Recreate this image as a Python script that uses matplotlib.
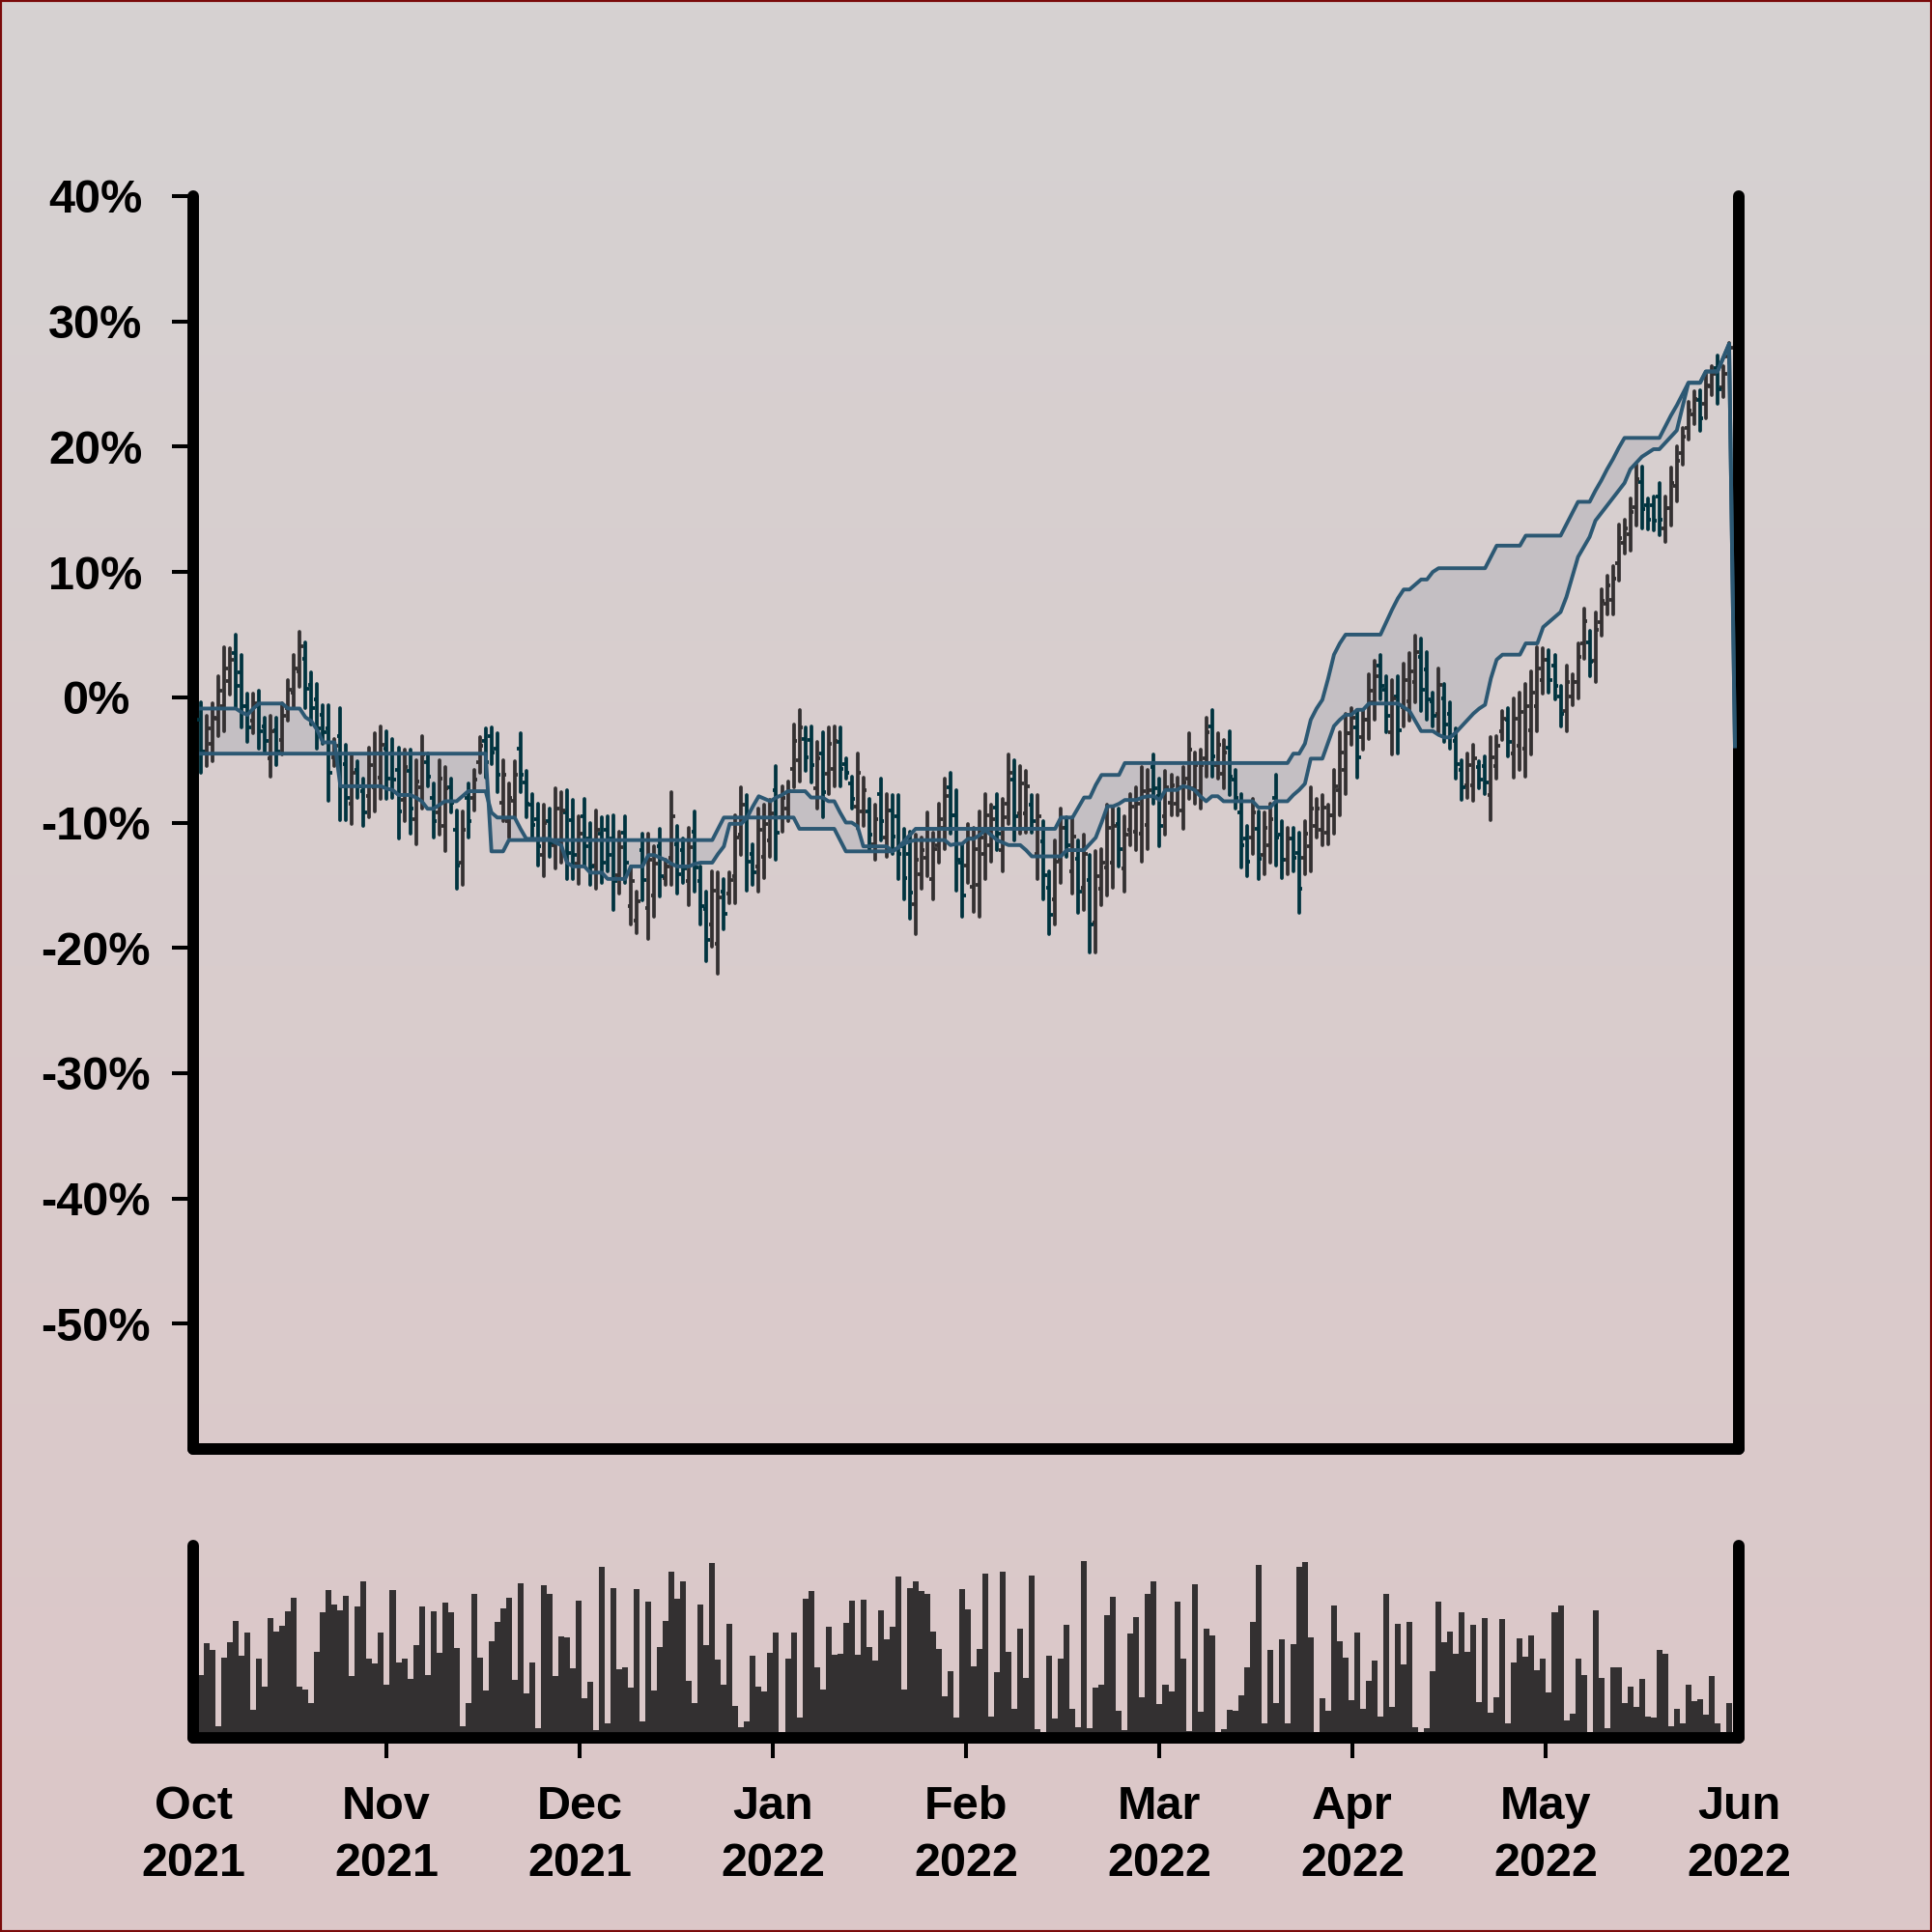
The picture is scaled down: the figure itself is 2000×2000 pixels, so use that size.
import numpy as np
import matplotlib
matplotlib.use("Agg")
import matplotlib.pyplot as plt
from matplotlib.colors import LinearSegmentedColormap
from matplotlib.patches import Rectangle

plt.rcParams["font.family"] = ["Liberation Sans", "DejaVu Sans"]

# ── data (percent change, one bar per session) ───────────────────────────────

highs = [
    -0.4, -1.5, -0.5, 1.7, 4.0, 3.9, 5.0, 3.4, 0.3, 0.3,
    0.5, -1.6, -1.5, -1.6, -0.5, 1.4, 3.4, 5.2, 4.4, 2.0,
    1.1, -0.6, -0.6, -3.3, -0.9, -3.8, -4.6, -5.1, -6.5, -4.0,
    -2.9, -2.3, -2.7, -3.3, -4.0, -4.2, -4.2, -5.0, -3.1, -4.5,
    -6.9, -5.0, -5.6, -6.5, -9.0, -9.1, -6.9, -5.8, -3.2, -2.5,
    -2.4, -2.9, -5.0, -6.9, -5.1, -2.9, -5.9, -7.7, -8.5, -8.6,
    -8.9, -7.3, -7.6, -7.4, -8.2, -9.5, -8.1, -10.0, -9.0, -9.6,
    -9.5, -9.4, -10.7, -9.5, -13.5, -15.5, -10.9, -10.9, -11.9, -10.5,
    -13.0, -7.6, -10.3, -11.3, -10.4, -9.1, -13.5, -15.5, -13.9, -14.0,
    -14.5, -14.0, -9.4, -7.2, -7.8, -11.7, -8.9, -8.6, -8.2, -5.5,
    -7.1, -6.7, -2.2, -1.0, -2.4, -2.3, -3.6, -2.8, -2.4, -2.3,
    -2.4, -4.9, -6.3, -4.5, -6.4, -8.1, -8.6, -6.5, -7.7, -7.8,
    -7.8, -10.5, -10.7, -11.0, -11.2, -9.2, -10.8, -8.5, -6.5, -6.0,
    -7.4, -11.7, -10.1, -10.4, -9.1, -7.7, -8.6, -7.7, -8.1, -4.6,
    -5.0, -5.5, -5.9, -7.8, -7.8, -9.9, -13.9, -11.4, -8.9, -9.6,
    -9.6, -11.4, -11.0, -12.6, -12.3, -12.1, -8.6, -8.7, -8.9, -9.5,
    -7.7, -7.2, -5.6, -5.8, -4.6, -6.5, -5.9, -6.2, -6.4, -5.6,
    -2.9, -4.4, -4.2, -1.6, -1.0, -2.9, -3.4, -2.7, -5.8, -7.7,
    -10.3, -8.1, -9.1, -9.2, -8.5, -6.2, -9.9, -10.4, -10.4, -10.8,
    -9.9, -7.2, -8.1, -7.8, -8.6, -5.8, -2.8, -1.3, -0.9, -1.0,
    -1.0, 1.8, 2.9, 3.4, 1.7, 1.4, 1.7, 2.7, 3.5, 4.9,
    4.7, 3.6, 0.4, 2.3, 1.1, -0.4, -2.5, -5.0, -4.5, -3.8,
    -5.1, -4.7, -3.2, -3.1, -1.1, -0.9, -0.1, 0.4, 1.1, 2.1,
    4.0, 3.9, 3.8, 3.4, 0.9, 2.5, 1.8, 4.3, 7.1, 5.3,
    6.8, 8.6, 9.7, 10.5, 13.8, 14.2, 15.9, 18.6, 18.4, 15.9,
    16.0, 17.1, 16.0, 18.3, 20.0, 21.5, 23.6, 24.4, 24.5, 25.8,
    26.4, 27.3, 26.4, 28.3,
]

lows = [
    -6.0, -5.5, -5.1, -3.1, -2.7, 0.2, -0.9, -2.4, -3.6, -2.9,
    -4.1, -4.3, -6.3, -5.4, -4.6, -1.9, -0.9, 0.8, -0.9, -2.2,
    -4.1, -3.7, -8.3, -5.5, -9.8, -9.8, -10.1, -8.0, -10.3, -9.6,
    -9.1, -8.1, -8.1, -8.0, -11.3, -9.9, -10.9, -11.7, -8.9, -7.1,
    -11.2, -11.0, -12.3, -9.2, -15.3, -15.0, -11.2, -9.0, -6.0, -6.4,
    -5.3, -7.6, -9.9, -11.2, -9.6, -7.6, -9.6, -11.3, -13.4, -14.3,
    -12.7, -13.7, -13.2, -14.5, -14.5, -14.9, -13.5, -15.0, -15.3, -14.8,
    -13.9, -17.0, -15.7, -14.8, -18.1, -18.8, -16.2, -19.3, -17.5, -15.9,
    -15.0, -15.0, -15.7, -14.8, -16.6, -15.5, -18.1, -21.1, -19.9, -22.1,
    -18.5, -16.4, -16.4, -12.6, -15.4, -15.0, -15.5, -14.4, -12.7, -13.0,
    -10.7, -9.9, -7.2, -6.7, -5.9, -6.8, -8.9, -9.6, -7.7, -7.1,
    -7.1, -6.5, -8.9, -10.5, -10.3, -12.2, -13.0, -11.4, -12.7, -12.5,
    -14.5, -16.1, -17.7, -18.9, -15.3, -14.3, -16.1, -13.2, -12.1, -10.9,
    -15.4, -17.5, -14.8, -17.1, -17.5, -14.5, -13.1, -12.2, -13.9, -10.1,
    -11.4, -10.9, -10.8, -10.8, -14.5, -16.1, -18.9, -18.1, -14.8, -12.7,
    -15.7, -17.2, -17.0, -20.4, -20.4, -16.6, -15.8, -15.2, -13.5, -15.5,
    -11.8, -12.2, -13.1, -12.1, -8.5, -11.9, -11.0, -9.4, -9.4, -10.5,
    -8.1, -8.5, -8.9, -6.3, -6.3, -6.5, -7.3, -7.8, -8.9, -13.6,
    -14.3, -12.5, -14.5, -14.1, -13.2, -13.4, -14.4, -14.1, -13.9, -17.2,
    -14.1, -13.9, -11.2, -11.8, -11.7, -10.9, -9.4, -7.7, -3.8, -6.4,
    -4.2, -3.3, -1.8, -0.2, -2.8, -4.6, -4.5, -2.3, -1.9, -0.4,
    -1.1, -1.8, -2.3, -2.8, -3.6, -4.1, -6.5, -8.2, -8.0, -8.3,
    -7.3, -7.7, -9.8, -6.5, -3.4, -4.7, -6.4, -5.8, -6.3, -4.6,
    -2.7, 0.3, 0.4, -0.2, -2.3, -2.7, -0.6, -0.1, 3.1, 1.7,
    1.2, 4.9, 6.6, 6.6, 9.3, 11.5, 11.7, 13.7, 13.5, 13.4,
    13.3, 12.9, 12.4, 13.7, 15.6, 18.6, 20.6, 21.8, 21.3, 22.3,
    24.1, 23.4, 24.0, 26.7,
]

opens = [
    -1.8, -4.3, -3.7, -1.7, -0.7, 1.3, 3.5, 2.0, -0.7, -1.9,
    -0.7, -2.3, -4.9, -2.6, -3.4, -0.9, 0.4, 2.1, 3.1, 1.0,
    -0.2, -1.4, -2.5, -4.8, -3.1, -5.3, -8.5, -5.8, -7.5, -7.9,
    -7.2, -6.4, -4.1, -4.5, -5.8, -8.2, -5.9, -9.7, -7.2, -5.2,
    -8.0, -9.2, -10.3, -7.2, -10.6, -13.2, -8.0, -8.0, -5.2, -3.5,
    -3.1, -4.1, -8.4, -9.9, -8.3, -4.1, -6.8, -8.6, -9.7, -12.6,
    -9.9, -11.8, -11.5, -9.2, -9.8, -13.3, -9.5, -11.3, -13.4, -10.9,
    -10.6, -11.3, -14.2, -10.8, -16.7, -17.8, -12.2, -16.8, -15.8, -11.9,
    -14.4, -12.8, -11.7, -12.2, -14.7, -10.7, -14.7, -16.9, -18.1, -19.7,
    -15.5, -15.7, -14.3, -11.0, -9.7, -12.5, -13.5, -12.7, -11.4, -7.4,
    -9.6, -8.9, -5.7, -5.0, -3.3, -3.4, -7.3, -4.5, -6.1, -5.7,
    -3.6, -5.3, -6.9, -8.7, -9.1, -9.1, -11.7, -7.7, -11.2, -9.0,
    -9.5, -11.9, -12.5, -16.5, -14.1, -12.8, -14.5, -11.8, -10.4, -7.2,
    -9.4, -13.2, -13.4, -15.1, -15.0, -12.5, -11.8, -8.8, -12.2, -8.5,
    -6.6, -9.3, -9.3, -8.6, -12.5, -11.5, -15.2, -16.1, -13.0, -10.4,
    -13.9, -12.9, -15.2, -14.6, -18.0, -15.3, -13.6, -13.2, -10.1, -13.7,
    -10.6, -10.7, -10.9, -10.2, -5.6, -7.9, -9.5, -8.4, -8.5, -9.0,
    -6.5, -7.3, -7.5, -4.9, -2.3, -5.4, -6.1, -4.0, -6.6, -9.2,
    -11.3, -11.2, -10.5, -12.6, -11.8, -8.0, -11.0, -13.0, -11.3, -12.4,
    -12.8, -11.9, -10.3, -10.6, -10.8, -9.4, -7.4, -5.8, -2.9, -2.4,
    -3.2, -1.8, -0.4, 2.5, 0.6, -2.8, 0.1, -0.8, -0.3, 1.2,
    3.2, 2.2, -0.3, -1.3, -0.1, -1.3, -3.5, -5.8, -7.0, -7.0,
    -5.6, -5.5, -7.8, -5.5, -2.7, -1.8, -4.5, -3.9, -4.1, -2.6,
    -0.7, 1.4, 3.0, 2.5, 0.1, -1.1, 0.1, 1.2, 4.3, 4.4,
    2.9, 6.0, 7.5, 7.8, 10.7, 12.3, 13.0, 15.2, 17.2, 15.3,
    15.3, 16.0, 13.5, 15.1, 16.9, 19.5, 21.5, 22.6, 23.7, 23.4,
    24.8, 26.3, 24.7, 27.2,
]

closes = [
    -4.3, -2.5, -1.6, 0.5, 2.3, 3.0, 0.9, -0.7, -2.4, -0.5,
    -2.7, -3.5, -2.7, -4.3, -1.5, 0.6, 2.3, 4.1, 0.7, -0.9,
    -2.5, -2.8, -6.0, -3.9, -7.1, -8.0, -6.0, -7.1, -9.2, -5.4,
    -4.5, -3.8, -6.5, -6.6, -9.1, -5.6, -8.9, -6.7, -4.6, -6.3,
    -9.9, -6.5, -7.3, -8.4, -13.4, -10.6, -9.9, -6.6, -3.9, -5.2,
    -4.4, -6.2, -6.2, -8.0, -6.2, -6.2, -8.5, -10.2, -11.9, -10.0,
    -11.6, -8.9, -9.0, -12.4, -12.6, -10.9, -11.9, -13.5, -10.6, -13.2,
    -12.6, -14.7, -12.0, -13.2, -14.7, -16.3, -14.6, -13.0, -13.3, -14.3,
    -13.5, -9.5, -14.1, -13.7, -12.0, -13.6, -16.7, -19.4, -15.4, -16.0,
    -17.3, -14.6, -11.2, -8.6, -13.1, -14.0, -10.6, -10.1, -9.3, -10.8,
    -8.0, -7.5, -3.5, -2.4, -4.8, -5.4, -4.9, -7.6, -3.7, -3.5,
    -5.7, -6.0, -8.1, -6.0, -7.4, -11.0, -9.7, -9.9, -9.0, -11.1,
    -12.5, -14.4, -15.6, -13.0, -12.2, -10.5, -12.1, -9.7, -7.9, -9.4,
    -13.0, -15.8, -11.3, -12.1, -11.2, -9.4, -9.7, -10.9, -9.6, -6.0,
    -9.5, -6.9, -7.1, -9.9, -9.5, -14.2, -17.4, -13.1, -10.4, -11.8,
    -11.1, -15.5, -12.5, -18.1, -14.3, -13.2, -10.4, -10.3, -12.1, -11.0,
    -8.7, -8.5, -7.5, -7.4, -7.3, -10.3, -7.2, -7.0, -7.2, -6.8,
    -4.2, -5.4, -5.4, -2.8, -4.7, -3.8, -4.4, -6.3, -8.0, -11.8,
    -13.1, -9.2, -12.9, -10.4, -9.7, -11.2, -13.0, -11.3, -12.8, -15.3,
    -10.9, -8.9, -8.9, -8.8, -9.4, -7.1, -4.4, -2.9, -1.6, -4.8,
    -1.8, 0.5, 1.7, 0.9, -1.5, -0.1, -2.6, 1.4, 2.1, 3.6,
    0.6, -0.2, -1.5, 1.0, -2.2, -3.0, -5.3, -7.2, -5.4, -4.9,
    -6.6, -6.8, -4.8, -3.9, -1.7, -3.6, -1.7, -1.2, -0.7, 0.4,
    2.3, 3.0, 1.4, 0.9, -1.3, 1.2, 1.2, 3.2, 6.1, 2.8,
    5.4, 7.7, 8.9, 9.5, 12.7, 13.5, 14.8, 17.4, 15.0, 14.2,
    14.1, 14.2, 15.1, 17.1, 18.9, 20.8, 22.9, 23.8, 22.3, 24.9,
    25.8, 24.6, 25.8, 27.9,
]

volume = [
    59, 92, 85, 6, 77, 93, 115, 79, 103, 23,
    76, 47, 118, 104, 110, 125, 139, 47, 44, 30,
    83, 124, 147, 132, 126, 141, 58, 130, 156, 76,
    71, 103, 49, 147, 72, 76, 55, 90, 130, 59,
    125, 82, 134, 124, 87, 6, 30, 143, 77, 43,
    94, 114, 128, 139, 54, 154, 40, 72, 4, 152,
    143, 58, 99, 98, 66, 136, 35, 52, 2, 171,
    9, 149, 65, 67, 46, 148, 11, 135, 43, 88,
    115, 166, 138, 156, 53, 30, 132, 90, 175, 75,
    49, 112, 27, 5, 11, 79, 47, 42, 82, 103,
    0, 76, 103, 15, 138, 146, 67, 44, 109, 80,
    81, 113, 136, 80, 137, 88, 74, 126, 96, 109,
    161, 44, 149, 156, 146, 143, 104, 86, 37, 63,
    15, 148, 127, 68, 86, 164, 16, 62, 166, 83,
    24, 107, 56, 162, 3, 0, 79, 14, 76, 111,
    24, 5, 177, 4, 46, 49, 121, 140, 22, 2,
    102, 119, 36, 143, 156, 29, 49, 42, 135, 76,
    1, 153, 21, 107, 100, 0, 3, 23, 22, 38,
    67, 114, 173, 9, 85, 30, 96, 9, 91, 171,
    176, 98, 0, 35, 22, 131, 94, 77, 33, 103,
    24, 53, 74, 16, 143, 26, 112, 70, 114, 5,
    0, 4, 63, 135, 93, 104, 81, 124, 83, 111,
    31, 118, 20, 36, 117, 9, 72, 97, 78, 100,
    64, 76, 41, 124, 131, 12, 19, 76, 59, 0,
    126, 56, 4, 67, 67, 30, 47, 26, 55, 16,
    15, 85, 81, 6, 24, 9, 49, 32, 34, 18,
    58, 9, 0, 30,
]

# cloud lines: one value per session plus a trailing point
span_a = [
    -0.9, -0.9, -0.9, -0.9, -0.9, -0.9, -0.9, -1.2, -1.4, -0.9,
    -0.5, -0.5, -0.5, -0.5, -0.5, -0.9, -0.9, -0.9, -1.6, -1.9,
    -2.6, -3.6, -3.6, -3.6, -7.1, -7.1, -7.1, -7.1, -7.1, -7.1,
    -7.1, -7.1, -7.3, -7.4, -7.8, -7.8, -7.8, -8.0, -8.3, -8.9,
    -8.9, -8.6, -8.3, -8.3, -8.3, -7.9, -7.5, -7.5, -7.5, -7.5,
    -9.2, -9.6, -9.6, -9.6, -9.6, -10.5, -11.3, -11.3, -11.3, -11.3,
    -11.3, -11.6, -11.8, -13.2, -13.5, -13.5, -13.5, -14.0, -14.0, -14.0,
    -14.5, -14.5, -14.5, -14.5, -13.5, -13.5, -13.5, -12.6, -12.6, -12.8,
    -13.0, -13.3, -13.5, -13.5, -13.5, -13.3, -13.2, -13.2, -13.2, -12.5,
    -11.9, -10.1, -10.1, -10.1, -9.6, -8.7, -7.9, -8.1, -8.3, -8.0,
    -7.8, -7.5, -7.5, -7.5, -7.5, -8.0, -8.0, -8.0, -8.3, -8.3,
    -9.2, -10.0, -10.0, -10.3, -11.9, -11.9, -11.9, -11.9, -11.9, -12.3,
    -12.0, -11.7, -11.5, -11.4, -11.4, -11.4, -11.4, -11.4, -11.4, -11.8,
    -11.7, -11.7, -11.3, -11.3, -11.0, -10.6, -11.0, -11.4, -11.6, -11.8,
    -11.8, -11.8, -12.2, -12.7, -12.7, -12.7, -12.7, -12.7, -12.7, -12.2,
    -12.2, -12.2, -12.2, -11.7, -11.2, -10.0, -8.7, -8.7, -8.5, -8.2,
    -8.2, -8.2, -8.0, -7.9, -7.9, -8.2, -7.4, -7.4, -7.4, -7.1,
    -7.2, -7.4, -7.9, -8.3, -7.9, -7.9, -8.3, -8.3, -8.3, -8.3,
    -8.3, -8.3, -8.8, -8.8, -8.8, -8.3, -8.3, -8.3, -7.8, -7.4,
    -6.9, -4.9, -4.9, -4.9, -3.6, -2.3, -1.8, -1.4, -1.4, -1.0,
    -1.0, -0.5, -0.5, -0.5, -0.5, -0.5, -0.5, -0.8, -1.1, -1.9,
    -2.7, -2.7, -2.7, -3.0, -3.2, -3.2, -2.8, -2.3, -1.8, -1.3,
    -0.9, -0.6, 1.5, 3.0, 3.4, 3.4, 3.4, 3.4, 4.3, 4.3,
    4.3, 5.6, 6.0, 6.4, 6.8, 8.0, 9.6, 11.2, 12.0, 12.8,
    14.1, 14.7, 15.3, 15.9, 16.5, 17.1, 18.2, 18.7, 19.2, 19.5,
    19.8, 19.8, 20.3, 20.8, 21.3, 23.2, 25.1, 25.1, 25.1, 26.0,
    26.0, 26.0, 27.1, 28.2, -3.9,
]

span_b = [
    -4.5, -4.5, -4.5, -4.5, -4.5, -4.5, -4.5, -4.5, -4.5, -4.5,
    -4.5, -4.5, -4.5, -4.5, -4.5, -4.5, -4.5, -4.5, -4.5, -4.5,
    -4.5, -4.5, -4.5, -4.5, -4.5, -4.5, -4.5, -4.5, -4.5, -4.5,
    -4.5, -4.5, -4.5, -4.5, -4.5, -4.5, -4.5, -4.5, -4.5, -4.5,
    -4.5, -4.5, -4.5, -4.5, -4.5, -4.5, -4.5, -4.5, -4.5, -4.5,
    -12.3, -12.3, -12.3, -11.4, -11.4, -11.4, -11.4, -11.4, -11.4, -11.4,
    -11.4, -11.4, -11.4, -11.4, -11.4, -11.4, -11.4, -11.4, -11.4, -11.4,
    -11.4, -11.4, -11.4, -11.4, -11.4, -11.4, -11.4, -11.4, -11.4, -11.4,
    -11.4, -11.4, -11.4, -11.4, -11.4, -11.4, -11.4, -11.4, -11.4, -10.5,
    -9.6, -9.6, -9.6, -9.6, -9.6, -9.6, -9.6, -9.6, -9.6, -9.6,
    -9.6, -9.6, -9.6, -10.5, -10.5, -10.5, -10.5, -10.5, -10.5, -10.5,
    -11.4, -12.3, -12.3, -12.3, -12.3, -12.3, -12.3, -12.3, -12.3, -12.3,
    -12.0, -11.5, -11.0, -10.5, -10.5, -10.5, -10.5, -10.5, -10.5, -10.5,
    -10.5, -10.5, -10.5, -10.5, -10.5, -10.5, -10.5, -10.5, -10.5, -10.5,
    -10.5, -10.5, -10.5, -10.5, -10.5, -10.5, -10.5, -10.5, -9.6, -9.6,
    -9.6, -8.8, -8.0, -8.0, -7.0, -6.2, -6.2, -6.2, -6.2, -5.25,
    -5.25, -5.25, -5.25, -5.25, -5.25, -5.25, -5.25, -5.25, -5.25, -5.25,
    -5.25, -5.25, -5.25, -5.25, -5.25, -5.25, -5.25, -5.25, -5.25, -5.25,
    -5.25, -5.25, -5.25, -5.25, -5.25, -5.25, -5.25, -5.25, -4.5, -4.5,
    -3.7, -1.8, -0.9, -0.2, 1.5, 3.4, 4.3, 5.0, 5.0, 5.0,
    5.0, 5.0, 5.0, 5.0, 6.0, 7.0, 7.9, 8.6, 8.6, 9.0,
    9.4, 9.4, 10.0, 10.3, 10.3, 10.3, 10.3, 10.3, 10.3, 10.3,
    10.3, 10.3, 11.2, 12.1, 12.1, 12.1, 12.1, 12.1, 12.9, 12.9,
    12.9, 12.9, 12.9, 12.9, 12.9, 13.8, 14.7, 15.6, 15.6, 15.6,
    16.5, 17.3, 18.2, 19.0, 19.9, 20.7, 20.7, 20.7, 20.7, 20.7,
    20.7, 20.7, 21.6, 22.5, 23.3, 24.2, 25.1, 25.1, 25.1, 26.0,
    26.0, 26.0, 27.1, 28.2, -3.9,
]

month_labels = ["Oct\n2021", "Nov\n2021", "Dec\n2021", "Jan\n2022", "Feb\n2022",
                "Mar\n2022", "Apr\n2022", "May\n2022", "Jun\n2022"]
pct_ticks = [40, 30, 20, 10, 0, -10, -20, -30, -40, -50]
pct_labels = ["40%", "30%", "20%", "10%", "0%", "-10%", "-20%", "-30%", "-40%", "-50%"]

# ── styling ──────────────────────────────────────────────────────────────────

UP_COL = "#333031"
DOWN_COL = "#00333f"
LINE_COL = "#2c5873"
FILL_COL = "#c4bfc3"
SPINE_W = 8.6
BAR_W = 2.7
FONT = dict(fontsize=35, fontweight="bold")

x = np.arange(len(highs))
x_line = np.arange(len(span_a))
up = np.array(closes) >= np.array(opens)
bar_cols = np.where(up, UP_COL, DOWN_COL)
XLIM = (-1.33, 264.67)

fig = plt.figure(figsize=(20, 20), dpi=100)

# background gradient + thin frame
bg = fig.add_axes([0, 0, 1, 1], zorder=-10)
cmap = LinearSegmentedColormap.from_list("bg", ["#d6d2d2", "#dcc7c8"])
bg.imshow(np.linspace(0, 1, 256)[:, None], aspect="auto", cmap=cmap,
          extent=[0, 1, 0, 1], origin="upper")
bg.set_axis_off()
fig.add_artist(Rectangle((0, 0), 1, 1, transform=fig.transFigure, fill=False,
                         edgecolor="#7a0a0a", linewidth=3))


def style_spines(a):
    a.set_facecolor("none")
    a.spines["top"].set_visible(False)
    for s in ("left", "right", "bottom"):
        a.spines[s].set_linewidth(SPINE_W)
        a.spines[s].set_capstyle("round")
        a.spines[s].set_color("black")


# ── price panel ──────────────────────────────────────────────────────────────

ax = fig.add_axes([0.1, 0.25, 0.8, 0.6485])
style_spines(ax)
ax.fill_between(x_line, span_a, span_b, color=FILL_COL, linewidth=0, zorder=1)
ax.vlines(x, lows, highs, colors=bar_cols, linewidth=BAR_W, zorder=3, capstyle="round")
ax.hlines(opens, x - 0.6, x, colors=bar_cols, linewidth=BAR_W, zorder=3)
ax.hlines(closes, x, x + 0.6, colors=bar_cols, linewidth=BAR_W, zorder=3)
ax.plot(x_line, span_a, color=LINE_COL, linewidth=2.8, zorder=4)
ax.plot(x_line, span_b, color=LINE_COL, linewidth=2.8, zorder=4)

ax.set_xlim(*XLIM)
ax.set_ylim(-60, 40)
ax.set_xticks([])
ax.set_yticks(pct_ticks)
ax.set_yticklabels(pct_labels, **FONT)
ax.tick_params(axis="y", length=15.8, width=2.9, pad=57)
for lbl in ax.get_yticklabels():
    lbl.set_horizontalalignment("center")

# ── volume panel ─────────────────────────────────────────────────────────────

vax = fig.add_axes([0.1, 0.1005, 0.8, 0.0995])
style_spines(vax)
vax.bar(x, volume, width=1.0, color=UP_COL, linewidth=0, zorder=2)
vax.set_xlim(*XLIM)
vax.set_ylim(-6, 193)
vax.set_yticks([])
vax.set_xticks(np.linspace(XLIM[0], XLIM[1], len(month_labels)))
vax.set_xticklabels(month_labels, linespacing=1.42, **FONT)
vax.tick_params(axis="x", length=15, width=2.9, pad=20)
xt = vax.xaxis.get_major_ticks()
for t in (xt[0], xt[-1]):
    t.tick1line.set_visible(False)

fig.savefig("out.png", dpi=100)
